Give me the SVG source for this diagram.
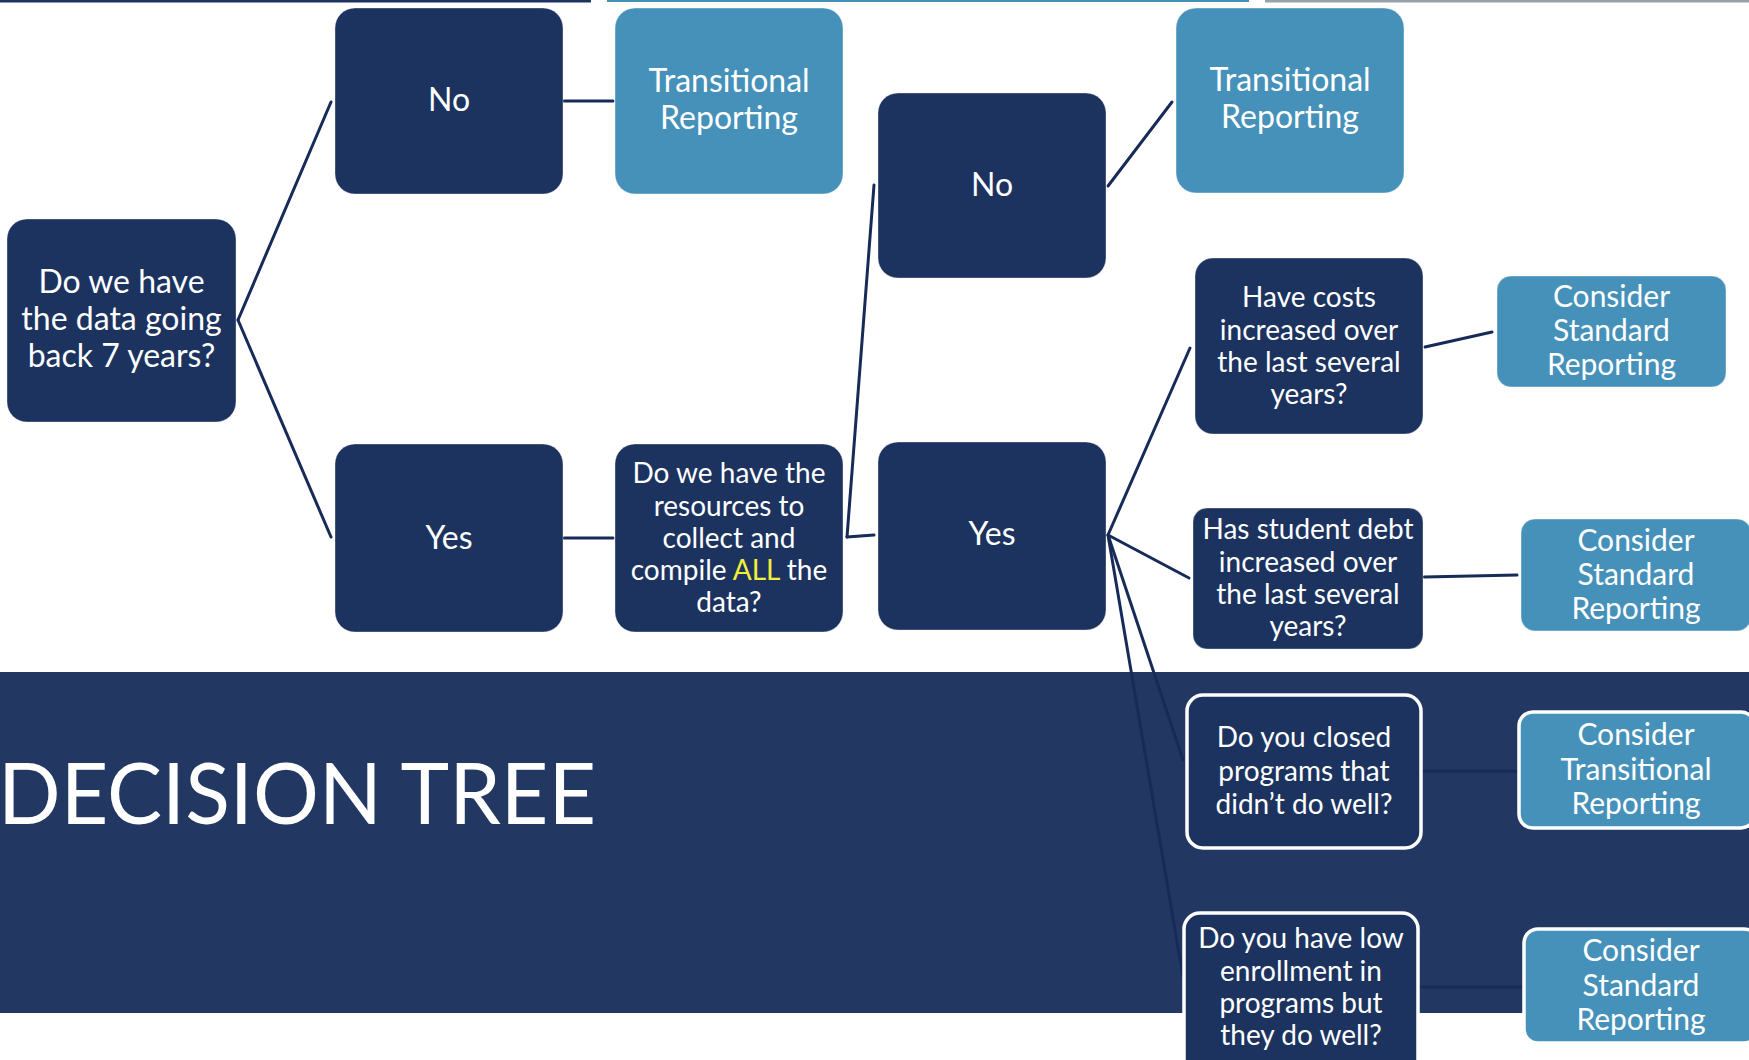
<svg xmlns="http://www.w3.org/2000/svg" width="1749" height="1060" viewBox="0 0 1749 1060">
<style>
.dk{fill:#1c335f;stroke:#ffffff;stroke-opacity:0.35;stroke-width:1}
.lt{fill:#4691ba;stroke:#ffffff;stroke-opacity:0.4;stroke-width:1}
.dkb{fill:#1c335f;stroke:#ffffff;stroke-width:3.5}
.ltb{fill:#4691ba;stroke:#ffffff;stroke-width:3.5}
text{font-family:Lato,"Liberation Sans",sans-serif;fill:#ffffff;text-anchor:middle}
.t32{font-size:32px}
.t30{font-size:30px}
.t28{font-size:28px}
.cn line{stroke:#172b58;stroke-width:3;stroke-linecap:round}
</style>
<rect x="0" y="0" width="1749" height="1060" fill="#ffffff"/>
<g id="topbar">
<rect x="0" y="0" width="591" height="2.5" fill="#1c335f"/>
<rect x="607" y="0" width="642" height="2" fill="#4691ba"/>
<rect x="1265" y="0" width="484" height="2.5" fill="#98a2ad"/>
</g>
<g id="banner">
<rect x="0" y="672" width="1749" height="341" fill="#223863"/>
<text x="297" y="824" style="font-size:86px" textLength="598" lengthAdjust="spacingAndGlyphs">DECISION TREE</text>
</g>
<g class="cn" id="connectors">
<line x1="238" y1="320" x2="331" y2="102"/>
<line x1="238" y1="320" x2="331" y2="537"/>
<line x1="564" y1="101" x2="613" y2="101"/>
<line x1="564" y1="538" x2="613" y2="538"/>
<line x1="847" y1="537" x2="874" y2="185"/>
<line x1="847" y1="537" x2="874" y2="535"/>
<line x1="1108" y1="186" x2="1172" y2="102"/>
<line x1="1108" y1="535" x2="1190" y2="348"/>
<line x1="1108" y1="535" x2="1189" y2="578"/>
<line x1="1108" y1="535" x2="1183" y2="760"/>
<line x1="1108" y1="535" x2="1183" y2="977"/>
<line x1="1425" y1="347" x2="1492" y2="332"/>
<line x1="1424" y1="577" x2="1517" y2="575"/>
<line x1="1423" y1="771" x2="1517" y2="771"/>
<line x1="1420" y1="987" x2="1521" y2="987"/>
</g>
<g id="n-root">
<rect class="dk" x="7" y="219" width="229" height="203" rx="20"/>
<text class="t32" x="121.5" y="293">Do we have</text>
<text class="t32" x="121.5" y="330">the data going</text>
<text class="t32" x="121.5" y="367">back 7 years?</text>
</g>
<g id="n-no1">
<rect class="dk" x="335" y="8" width="228" height="186" rx="20"/>
<text class="t32" x="449" y="111">No</text>
</g>
<g id="n-trans1">
<rect class="lt" x="615" y="8" width="228" height="186" rx="20"/>
<text class="t32" x="729" y="92">Transitional</text>
<text class="t32" x="729" y="129">Reporting</text>
</g>
<g id="n-yes1">
<rect class="dk" x="335" y="444" width="228" height="188" rx="20"/>
<text class="t32" x="449" y="549">Yes</text>
</g>
<g id="n-resources">
<rect class="dk" x="615" y="444" width="228" height="188" rx="20"/>
<text class="t28" x="729" y="483">Do we have the</text>
<text class="t28" x="729" y="516">resources to</text>
<text class="t28" x="729" y="548">collect and</text>
<text class="t28" x="729" y="580">compile <tspan fill="#f2ef3a">ALL</tspan> the</text>
<text class="t28" x="729" y="612">data?</text>
</g>
<g id="n-no2">
<rect class="dk" x="878" y="93" width="228" height="185" rx="20"/>
<text class="t32" x="992" y="196">No</text>
</g>
<g id="n-trans2">
<rect class="lt" x="1176" y="8" width="228" height="185" rx="20"/>
<text class="t32" x="1290" y="91">Transitional</text>
<text class="t32" x="1290" y="128">Reporting</text>
</g>
<g id="n-yes2">
<rect class="dk" x="878" y="442" width="228" height="188" rx="20"/>
<text class="t32" x="992" y="545">Yes</text>
</g>
<g id="n-costs">
<rect class="dk" x="1195" y="258" width="228" height="176" rx="18"/>
<text class="t28" x="1309" y="307">Have costs</text>
<text class="t28" x="1309" y="340">increased over</text>
<text class="t28" x="1309" y="372">the last several</text>
<text class="t28" x="1309" y="404">years?</text>
</g>
<g id="n-std1">
<rect class="lt" x="1497" y="276" width="229" height="111" rx="14"/>
<text class="t30" x="1611.5" y="307">Consider</text>
<text class="t30" x="1611.5" y="341">Standard</text>
<text class="t30" x="1611.5" y="375">Reporting</text>
</g>
<g id="n-debt">
<rect class="dk" x="1193" y="508" width="230" height="141" rx="14"/>
<text class="t28" x="1308" y="539">Has student debt</text>
<text class="t28" x="1308" y="572">increased over</text>
<text class="t28" x="1308" y="604">the last several</text>
<text class="t28" x="1308" y="636">years?</text>
</g>
<g id="n-std2">
<rect class="lt" x="1521" y="519" width="230" height="112" rx="14"/>
<text class="t30" x="1636" y="551">Consider</text>
<text class="t30" x="1636" y="585">Standard</text>
<text class="t30" x="1636" y="619">Reporting</text>
</g>
<g id="n-closed">
<rect class="dkb" x="1187" y="695" width="234" height="153" rx="16"/>
<text class="t28" x="1304" y="747">Do you closed</text>
<text class="t28" x="1304" y="781">programs that</text>
<text class="t28" x="1304" y="814">didn’t do well?</text>
</g>
<g id="n-trans3">
<rect class="ltb" x="1519" y="712" width="236" height="116" rx="14"/>
<text class="t30" x="1636" y="745">Consider</text>
<text class="t30" x="1636" y="780">Transitional</text>
<text class="t30" x="1636" y="814">Reporting</text>
</g>
<g id="n-lowenroll">
<rect class="dkb" x="1184" y="913" width="234" height="170" rx="16"/>
<text class="t28" x="1301" y="948">Do you have low</text>
<text class="t28" x="1301" y="981">enrollment in</text>
<text class="t28" x="1301" y="1013">programs but</text>
<text class="t28" x="1301" y="1045">they do well?</text>
</g>
<g id="n-std3">
<rect class="ltb" x="1524" y="929" width="234" height="114" rx="14"/>
<text class="t30" x="1641" y="961">Consider</text>
<text class="t30" x="1641" y="996">Standard</text>
<text class="t30" x="1641" y="1030">Reporting</text>
</g>
</svg>
